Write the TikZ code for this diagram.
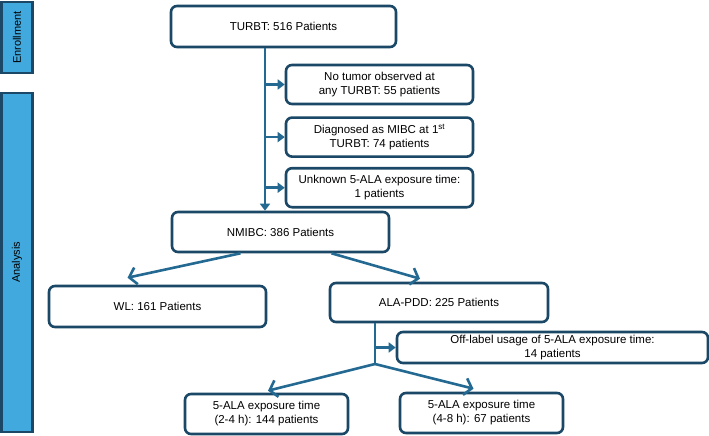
\documentclass[tikz,border=0pt]{standalone}
\usepackage{fontspec}
\setmainfont{Liberation Sans}
\usepackage{xcolor}
\usepackage{tikz}
\usetikzlibrary{arrows.meta,positioning}

\definecolor{boxline}{RGB}{26,72,102}
\definecolor{flowblue}{RGB}{35,105,145}
\definecolor{sidefill}{RGB}{66,169,222}

\begin{document}
\begin{tikzpicture}[
    x=1pt, y=-1pt,
    box/.style={draw=boxline, line width=2.6pt, rectangle, rounded corners=6pt, fill=white, align=center, inner sep=0pt, font=\fontsize{11.5}{14}\selectfont},
    phase/.style={draw=boxline, line width=2.4pt, rectangle, fill=sidefill, inner sep=0pt, minimum width=31pt, font=\fontsize{11}{12}\selectfont},
    flow/.style={draw=flowblue, line width=2.6pt},
    sidearrow/.style={flow, -{Triangle[length=7pt,width=10pt]}},
    splitarrow/.style={flow, -{Straight Barb[length=7pt,width=17pt]}}
]
\useasboundingbox (0,0) rectangle (709,436);

% phases
\node[phase, minimum height=71pt] (enroll) at (17,37.5) {\rotatebox{90}{Enrollment}};
\node[phase, minimum height=339pt] (analysis) at (17,262.5) {\rotatebox{90}{Analysis}};

% main boxes
\node[box, minimum width=225pt, minimum height=41pt] (turbt) at (283.5,26.5) {TURBT: 516 Patients};
\node[box, minimum width=187pt, minimum height=39pt] (notumor) at (379.5,84.5) {No tumor observed at\\any TURBT: 55 patients};
\node[box, minimum width=187pt, minimum height=39pt, below=11pt of notumor] (mibc) {Diagnosed as MIBC at 1\textsuperscript{st}\\TURBT: 74 patients};
\node[box, minimum width=187pt, minimum height=39pt, below=9pt of mibc] (unknown) {Unknown 5-ALA exposure time:\\1 patients};
\node[box, minimum width=217pt, minimum height=40pt] (nmibc) at (280.5,232) {NMIBC: 386 Patients};
\node[box, minimum width=217pt, minimum height=41pt] (wl) at (157.5,306.5) {WL: 161 Patients};
\node[box, minimum width=218pt, minimum height=39pt] (alapdd) at (439,302.5) {ALA-PDD: 225 Patients};
\node[box, minimum width=311pt, minimum height=31pt] (offlabel) at (552.5,347.5) {Off-label usage of 5-ALA exposure time:\\14 patients};
\node[box, minimum width=163pt, minimum height=40pt] (exp24) at (266.5,414) {5-ALA exposure time\\(2-4 h): 144 patients};
\node[box, minimum width=163pt, minimum height=40pt] (exp48) at (481.5,413) {5-ALA exposure time\\(4-8 h): 67 patients};

\coordinate (spine) at (265,0);
\coordinate (split) at (375,364);

% exclusions
\draw[sidearrow] (turbt.south -| spine) -- (nmibc.north -| spine);
\foreach \n in {notumor,mibc,unknown}
    \draw[sidearrow] (\n.west -| spine) -- (\n.west);

% arms
\draw[splitarrow] ([xshift=-40pt]nmibc.south) -- ([xshift=-30pt,yshift=7pt]wl.north);
\draw[splitarrow] ([xshift=51pt]nmibc.south) -- ([xshift=-19pt,yshift=3pt]alapdd.north);

% exposure time
\draw[flow] (alapdd.south -| split) -- (split);
\draw[sidearrow] (split |- offlabel.west) -- (offlabel.west);
\draw[splitarrow] (split) -- ([xshift=1.5pt,yshift=2pt]exp24.north);
\draw[splitarrow] (split) -- ([xshift=-8pt,yshift=3pt]exp48.north);

\end{tikzpicture}
\end{document}
